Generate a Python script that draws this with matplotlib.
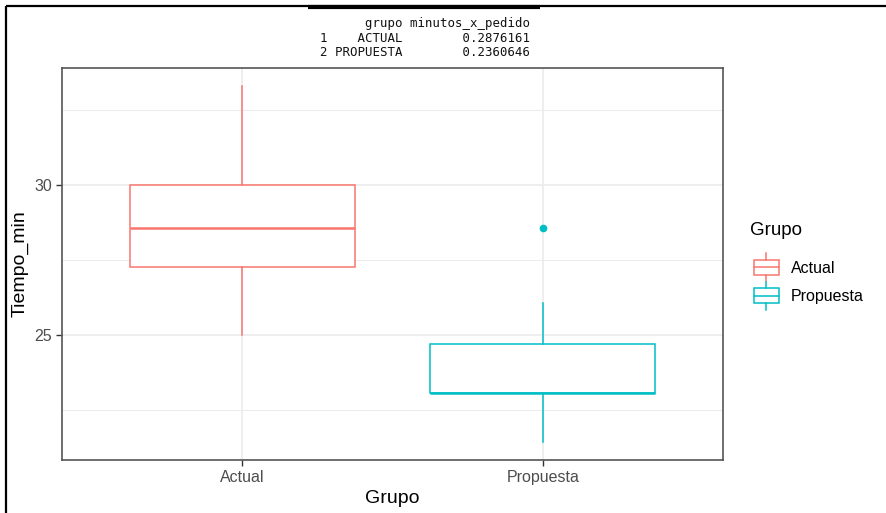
import matplotlib
matplotlib.use("Agg")
import matplotlib.pyplot as plt
from matplotlib.lines import Line2D
from matplotlib.patches import Rectangle, Patch
from matplotlib.legend_handler import HandlerBase

plt.rcParams["font.family"] = ["Liberation Sans", "DejaVu Sans"]

# Box statistics (Tiempo_min)
grupos = ["Actual", "Propuesta"]
colores = ["#F8766D", "#00BFC4"]
whislo = [25.0, 21.43]
q1 = [27.27, 23.07]
med = [28.57, 23.08]
q3 = [30.0, 24.70]
whishi = [33.3, 26.07]
outliers = [[], [28.57]]

# Printed table on top of the chart
tabla_filas = ["1", "2"]
tabla_grupo = ["ACTUAL", "PROPUESTA"]
tabla_minutos = ["0.2876161", "0.2360646"]

W, H = 887, 513
fig = plt.figure(figsize=(W / 100, H / 100), dpi=100)
ax = fig.add_axes([62 / W, 1 - 460 / H, 661 / W, 392 / H])

stats = []
for i in range(len(grupos)):
    stats.append(dict(label=grupos[i], whislo=whislo[i], q1=q1[i], med=med[i],
                      q3=q3[i], whishi=whishi[i], fliers=outliers[i]))

for i, s in enumerate(stats):
    c = colores[i]
    ax.bxp([s], positions=[i + 1], widths=0.75, showcaps=False, patch_artist=True,
           boxprops=dict(facecolor="white", edgecolor=c, linewidth=1.1),
           medianprops=dict(color=c, linewidth=1.8),
           whiskerprops=dict(color=c, linewidth=1.1),
           flierprops=dict(marker="o", markerfacecolor=c, markeredgecolor=c,
                           markersize=4.5),
           zorder=3)

ax.set_xlim(0.4, 2.6)
ax.set_ylim(20.84, 33.89)
ax.set_xticks([1, 2])
ax.set_xticklabels(grupos)
ax.set_yticks([25, 30])
ax.set_yticks([22.5, 27.5, 32.5], minor=True)
ax.tick_params(axis="both", which="major", length=4, width=1, color="#333333",
               labelcolor="#4D4D4D", labelsize=11.5, pad=3)
ax.tick_params(axis="y", which="minor", length=0)
ax.grid(True, which="major", color="#EBEBEB", linewidth=1.2, zorder=0)
ax.grid(True, which="minor", axis="y", color="#EBEBEB", linewidth=0.7, zorder=0)
ax.set_axisbelow(True)
for sp in ax.spines.values():
    sp.set_color("#555555")
    sp.set_linewidth(1.2)

ax.set_xlabel("Grupo", fontsize=14, labelpad=4)
ax.set_ylabel("Tiempo_min", fontsize=14, labelpad=4)


# Legend keys drawn like ggplot boxplot keys
class BoxKeyHandler(HandlerBase):
    def create_artists(self, legend, orig_handle, xdescent, ydescent, width, height,
                       fontsize, trans):
        c = orig_handle.get_edgecolor()
        x0, y0 = -xdescent, -ydescent
        box = Rectangle((x0, y0), width, height, facecolor="white", edgecolor=c,
                        linewidth=1.1, transform=trans)
        mid = Line2D([x0, x0 + width], [y0 + height / 2] * 2, color=c, lw=1.1,
                     transform=trans)
        wt = Line2D([x0 + width / 2] * 2, [y0 + height, y0 + height * 1.45], color=c,
                    lw=1.1, transform=trans)
        wb = Line2D([x0 + width / 2] * 2, [y0, y0 - height * 0.45], color=c, lw=1.1,
                    transform=trans)
        return [box, mid, wt, wb]


handles = [Patch(facecolor="white", edgecolor=c) for c in colores]
fig.text(750 / W, 1 - 231 / H, "Grupo", fontsize=13.5, ha="left", va="center")
fig.legend(handles, grupos, loc="upper left",
           bbox_to_anchor=(746 / W, 1 - 252 / H), frameon=False, fontsize=11.5,
           handlelength=1.55, handleheight=1.05,
           handletextpad=0.75, labelspacing=0.78, borderpad=0,
           handler_map={Patch: BoxKeyHandler()})

# Printed data frame at the top
mono = dict(family="DejaVu Sans Mono", fontsize=8.9, color="#111111", ha="right",
            va="center")
lineas = ["%s %9s %16s" % (" ", "grupo", "minutos_x_pedido")]
for r, g, m in zip(tabla_filas, tabla_grupo, tabla_minutos):
    lineas.append("%s %9s %16s" % (r, g, m))
for k, txt in enumerate(lineas):
    fig.text(530 / W, 1 - (24 + 14.5 * k) / H, txt, **mono)

# Screenshot frame lines
fig.add_artist(Line2D([6.5 / W, 6.5 / W], [0, 1 - 5.5 / H], color="black", lw=1.6,
                      solid_capstyle="butt"))
fig.add_artist(Line2D([6 / W, 1], [1 - 6.3 / H] * 2, color="black", lw=1.6,
                      solid_capstyle="butt"))
fig.add_artist(Line2D([308 / W, 540 / W], [1 - 6.8 / H] * 2, color="black", lw=3.0,
                      solid_capstyle="butt"))

fig.savefig("out.png", dpi=100)
